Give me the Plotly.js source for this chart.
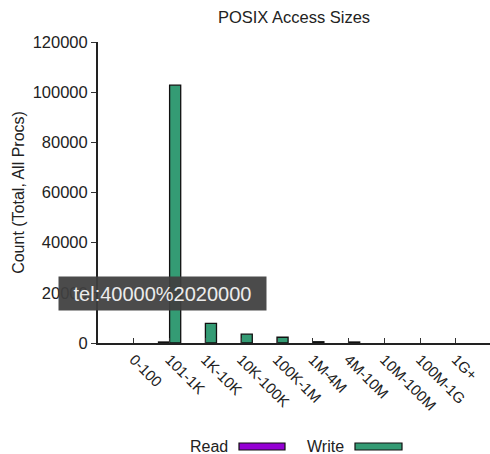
<!DOCTYPE html>
<html>
<head>
<meta charset="utf-8">
<script src="https://cdn.plot.ly/plotly-3.0.1.min.js"></script>
<style>
  html, body { margin: 0; padding: 0; background: #ffffff; }
  #chart { width: 490px; height: 454px; }
</style>
</head>
<body>
<div id="chart"></div>
<script>
// Access size buckets and per-bucket operation counts (total over all processes)
const sizeBuckets = ['0-100', '101-1K', '1K-10K', '10K-100K', '100K-1M',
                     '1M-4M', '4M-10M', '10M-100M', '100M-1G', '1G+'];
const readCounts  = [0, 400, 0, 0, 0, 0, 0, 0, 0, 0];
const writeCounts = [0, 102800, 7800, 3500, 2300, 500, 400, 0, 0, 0];
const yTickValues = [0, 20000, 40000, 60000, 80000, 100000, 120000];

const W = 490, H = 454;
const M = { l: 98, r: 0, t: 42, b: 111 };
const plotW = W - M.l - M.r, plotH = H - M.t - M.b;
// pixel position -> paper coordinates (for overlay items)
const px = x => (x - M.l) / plotW;
const py = y => (H - M.b - y) / plotH;

const FONT = 'Liberation Sans, Arial, Helvetica, sans-serif';
const readColor = '#9400d3';
const writeColor = '#349b74';
// empty buckets get no outline so they don't thicken the axis line
const outline = vals => vals.map(v => (v > 0 ? 1.3 : 0));

const traces = [
  { type: 'bar', name: 'Read', x: sizeBuckets, y: readCounts,
    marker: { color: readColor, line: { color: '#111', width: outline(readCounts) } },
    hoverinfo: 'x+y' },
  { type: 'bar', name: 'Write', x: sizeBuckets, y: writeCounts,
    marker: { color: writeColor, line: { color: '#111', width: outline(writeCounts) } },
    hoverinfo: 'x+y' }
];

// hand-placed key: label followed by a colour swatch
const key = [
  { label: 'Read',  color: readColor,  textRight: 230, sw: [239, 285] },
  { label: 'Write', color: writeColor, textRight: 346, sw: [355, 402] }
];

const annotations = key.map(k => ({
  xref: 'paper', yref: 'paper', x: px(k.textRight), y: py(446),
  xanchor: 'right', yanchor: 'middle', showarrow: false,
  text: k.label, font: { family: FONT, size: 16, color: '#222' }
}));
const shapes = key.map(k => ({
  type: 'rect', xref: 'paper', yref: 'paper',
  x0: px(k.sw[0]), x1: px(k.sw[1]), y0: py(450), y1: py(443),
  fillcolor: k.color, line: { color: '#111', width: 1.2 }
}));

// dark pill with the detected link text over the lower y axis
annotations.push({
  xref: 'paper', yref: 'paper', x: px(58), y: py(293.5),
  xanchor: 'left', yanchor: 'middle', showarrow: false,
  text: 'tel:40000%2020000', width: 207, height: 33, align: 'center',
  bgcolor: 'rgba(64,64,64,0.94)', borderpad: 0,
  font: { family: FONT, size: 20, color: '#ececec' }
});

const layout = {
  width: W, height: H,
  margin: M,
  paper_bgcolor: '#ffffff', plot_bgcolor: '#ffffff',
  font: { family: FONT, size: 16, color: '#222' },
  showlegend: false,
  barmode: 'group', bargap: 0.38, bargroupgap: 0,
  title: { text: 'POSIX Access Sizes', x: 0.5, xref: 'paper',
           y: 1 - 17 / H, yref: 'container', yanchor: 'middle',
           font: { family: FONT, size: 16.5, color: '#222' } },
  xaxis: {
    type: 'category', range: [-1, 9.95],
    showline: true, linecolor: '#222', linewidth: 2,
    ticks: 'inside', ticklen: 5, tickwidth: 1, tickcolor: '#333',
    tickangle: 45, showgrid: false, zeroline: false,
    tickfont: { family: FONT, size: 15, color: '#222' }
  },
  yaxis: {
    range: [0, 120000], tickvals: yTickValues,
    ticktext: yTickValues.map(String),
    showline: true, linecolor: '#222', linewidth: 2,
    ticks: 'outside', ticklen: 5, tickwidth: 1, tickcolor: '#333',
    showgrid: false, zeroline: false, automargin: false,
    tickfont: { family: FONT, size: 16.5, color: '#222' },
    title: { text: 'Count (Total, All Procs)', standoff: 4,
             font: { family: FONT, size: 16, color: '#222' } }
  },
  annotations: annotations,
  shapes: shapes
};

Plotly.newPlot('chart', traces, layout, { displayModeBar: false, staticPlot: true });
</script>
</body>
</html>
